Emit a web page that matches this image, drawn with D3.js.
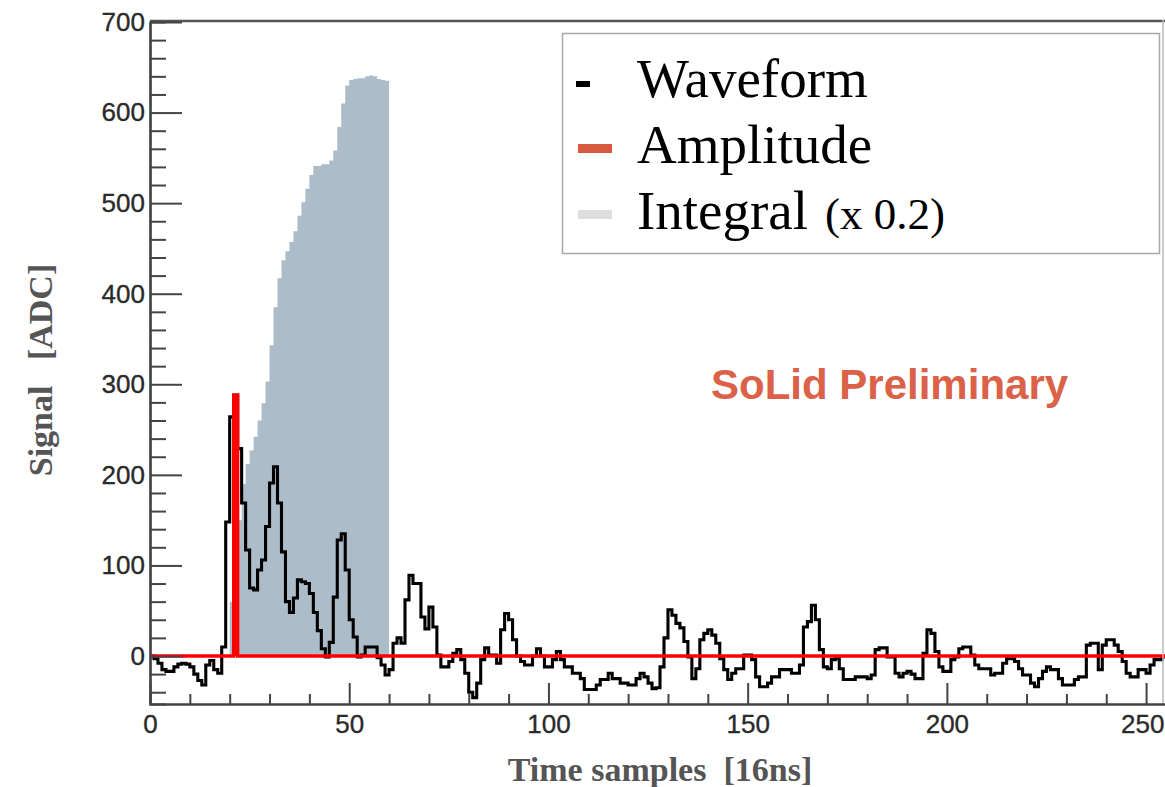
<!DOCTYPE html>
<html>
<head>
<meta charset="utf-8">
<script src="https://cdn.jsdelivr.net/npm/d3@7"></script>
<style>
  body { margin: 0; background: #fff; }
  svg { display: block; }
</style>
</head>
<body>
<svg id="chart" width="1165" height="787"></svg>
<script>
// Digitised waveform of one SoLid channel: one ADC value per 16 ns sample (256 samples).
const waveform = [
  0, -3, -8, -15, -17, -17, -12, -9, -8, -9, -12, -20, -27, -32, -10, -5, -15, -19, 10, 148, 264,
  288, 229, 169, 117, 75, 73, 95, 106, 143, 191, 209, 169, 115, 60, 48, 64, 84, 82, 80, 69,
  48, 28, 8, -1, 15, 65, 128, 135, 95, 40, 21, -1, 1, 10, 10, 10, -2, -10, -21, -15,
  14, 20, 14, 62, 89, 80, 80, 43, 30, 54, 32, 1, -12, -12, -6, 3, 7, -4, -19, -40, -46,
  -30, -4, 9, 1, 1, -8, 29, 47, 40, 18, 0, -6, -10, -10, 0, 8, 0, -12, -12, -4,
  5, -4, -12, -12, -19, -19, -25, -37, -37, -37, -32, -26, -26, -19, -25, -25, -30, -30, -32, -32,
  -25, -19, -23, -30, -36, -35,
  -12, 20, 51, 45, 36, 31, 16, -1, -25, -14, 18, 25, 29, 23, 14, -3, -15, -26, -19, -14,
  -14, 1, 1, -4, -23, -34, -34, -30, -23, -23, -15, -15, -15, -19, -19, -10, 32, 38, 56, 40,
  7, -12, -14, -4, -3, -14, -26, -26, -26, -23, -23, -23, -25, -21, 7, 9, 9, -1, -1, -19,
  -23, -19, -17, -20, -25, -25, 3, 29, 25, 5, -12, -17, -17, -4, -1, 8, 10, 10, 1, -10,
  -14, -14, -14, -21, -19, -19, -8, -3, -3, -6, -14, -21, -21, -30, -34, -25, -17, -12, -15, -15,
  -25, -32, -32, -32, -26, -23, -23, 12, 14, 14, -15, 12, 18, 18, 12, 5, -6, -19, -23, -23,
  -15, -15, -19, -10, -4, -4, -1, 0
];

// Running integral (scaled by 0.2) over the integration window, first bin = integralStart.
const integralStart = 20;
const integral = [
  60, 105, 150, 190, 212, 227, 242, 260, 279, 303,
  343, 385, 417, 437, 447, 457, 469, 486, 501, 516,
  531, 541, 541, 543, 543, 547, 558, 584, 610, 630,
  636, 637, 638, 638, 640, 641, 640, 637, 636, 635
];

// Amplitude: the single bin holding the pulse maximum.
const amplitudeSample = 21;
const amplitudeValue = 288;

const xMajorTicks = [0, 50, 100, 150, 200, 250];
const yMajorTicks = [0, 100, 200, 300, 400, 500, 600, 700];

const legendItems = ["Waveform", "Amplitude", "Integral"];

const svg = d3.select("#chart");
const W = 1165, H = 787;

svg.append("rect").attr("width", W).attr("height", H).attr("fill", "#fff");

const x = d3.scaleLinear().domain([0, 256]).range([150, 1170]);
const y = d3.scaleLinear().domain([-53, 700]).range([704, 22]);

svg.append("defs").append("clipPath").attr("id", "plotClip")
  .append("rect").attr("x", 150).attr("y", 18).attr("width", W - 150).attr("height", 704 - 18);

const plot = svg.append("g").attr("clip-path", "url(#plotClip)");

// Integral histogram (filled)
const integralPts = integral.map((v, i) => [integralStart + i, v]);
integralPts.push([integralStart + integral.length, integral[integral.length - 1]]);
plot.append("path")
  .datum(integralPts)
  .attr("fill", "#adbcc9")
  .attr("stroke", "none")
  .attr("d", d3.area()
    .x(d => x(d[0]))
    .y0(y(0))
    .y1(d => y(d[1]))
    .curve(d3.curveStepAfter));

// Waveform histogram (step line)
const wavePts = waveform.map((v, i) => [i, v]);
wavePts.push([waveform.length, waveform[waveform.length - 1]]);
plot.append("path")
  .datum(wavePts)
  .attr("fill", "none")
  .attr("stroke", "#000")
  .attr("stroke-width", 3.1)
  .attr("stroke-linejoin", "miter")
  .attr("d", d3.line()
    .x(d => x(d[0]))
    .y(d => y(d[1]))
    .curve(d3.curveStepAfter));

// Amplitude histogram: zero everywhere except the peak bin (peak bin drawn solid)
const ampPts = [
  [0, 0], [amplitudeSample, 0], [amplitudeSample, amplitudeValue],
  [amplitudeSample + 1, amplitudeValue], [amplitudeSample + 1, 0], [256, 0]
];
plot.append("path")
  .datum(ampPts)
  .attr("fill", "#ff0000")
  .attr("stroke", "#ff0000")
  .attr("stroke-width", 3.4)
  .attr("d", d3.line().x(d => x(d[0])).y(d => y(d[1])));

// Frame
svg.append("line").attr("x1", 150).attr("x2", W).attr("y1", 21).attr("y2", 21)
  .attr("stroke", "#555").attr("stroke-width", 2.5);
svg.append("line").attr("x1", 1163).attr("x2", 1163).attr("y1", 20).attr("y2", 704)
  .attr("stroke", "#bbb").attr("stroke-width", 1.5);

const axisColor = "#444";
const tickFont = "'Liberation Sans', Arial, Helvetica, sans-serif";

function styleAxis(g) {
  g.select(".domain").attr("stroke", axisColor).attr("stroke-width", 2.2);
  g.selectAll(".tick line").attr("stroke", axisColor).attr("stroke-width", 2);
  g.selectAll(".tick text")
    .attr("fill", "#2a2a2a")
    .attr("stroke", "#2a2a2a")
    .attr("stroke-width", 0.35)
    .style("font-family", tickFont)
    .style("font-size", "26px");
}

// Y axis: minor ticks every 20, major every 100
const yMinor = d3.range(-40, 701, 20).filter(v => v % 100 !== 0);
svg.append("g").attr("transform", "translate(150,0)")
  .call(d3.axisLeft(y).tickValues(yMinor).tickSize(-16).tickFormat(""))
  .call(styleAxis);
svg.append("g").attr("transform", "translate(150,0)")
  .call(d3.axisLeft(y).tickValues(yMajorTicks).tickSizeInner(-32).tickSizeOuter(0).tickPadding(5))
  .call(styleAxis);

// X axis: minor ticks every 10, major every 50
const xMinor = d3.range(10, 256, 10).filter(v => v % 50 !== 0);
svg.append("g").attr("transform", "translate(0,704)")
  .call(d3.axisBottom(x).tickValues(xMinor).tickSize(-10).tickFormat(""))
  .call(styleAxis);
const xAxisMajor = svg.append("g").attr("transform", "translate(0,704)")
  .call(d3.axisBottom(x).tickValues(xMajorTicks).tickSizeInner(-21).tickSizeOuter(0).tickPadding(11))
  .call(styleAxis);
// keep the last label inside the page edge
xAxisMajor.selectAll(".tick text")
  .filter(d => d === xMajorTicks[xMajorTicks.length - 1])
  .attr("text-anchor", "end")
  .attr("x", 1164 - x(xMajorTicks[xMajorTicks.length - 1]));

// Axis titles
const titleFont = "'Liberation Serif', 'Times New Roman', Times, serif";
svg.append("text")
  .attr("x", 660).attr("y", 781)
  .attr("text-anchor", "middle")
  .attr("fill", "#555")
  .style("font-family", titleFont)
  .style("font-weight", "bold")
  .style("font-size", "34px")
  .style("white-space", "pre")
  .text("Time samples  [16ns]");

svg.append("text")
  .attr("transform", "translate(52,370) rotate(-90)")
  .attr("text-anchor", "middle")
  .attr("fill", "#555")
  .style("font-family", titleFont)
  .style("font-weight", "bold")
  .style("font-size", "34px")
  .style("white-space", "pre")
  .text("Signal   [ADC]");

// Legend
const legend = svg.append("g");
legend.append("rect")
  .attr("x", 562.5).attr("y", 33.5).attr("width", 597).attr("height", 220)
  .attr("fill", "#fff").attr("stroke", "#a8a8a8").attr("stroke-width", 1.5);

legend.append("rect").attr("x", 576).attr("y", 81).attr("width", 14).attr("height", 6).attr("fill", "#000");
legend.append("rect").attr("x", 578).attr("y", 144).attr("width", 34).attr("height", 9).attr("fill", "#d75a3f");
legend.append("rect").attr("x", 578).attr("y", 210).attr("width", 34).attr("height", 9).attr("fill", "#dedede");

const legendY = [97, 163, 229];
legendItems.forEach((name, i) => {
  const t = legend.append("text")
    .attr("x", 637).attr("y", legendY[i])
    .attr("fill", "#000")
    .style("font-family", titleFont)
    .style("font-size", "55px")
    .text(name);
  if (name === "Integral") {
    t.append("tspan").attr("x", 825).style("font-size", "45px").text("(x 0.2)");
  }
});

// Preliminary stamp
svg.append("text")
  .attr("x", 711).attr("y", 399)
  .attr("fill", "#db6149")
  .style("font-family", tickFont)
  .style("font-weight", "bold")
  .style("font-size", "42px")
  .text("SoLid Preliminary");
</script>
</body>
</html>
